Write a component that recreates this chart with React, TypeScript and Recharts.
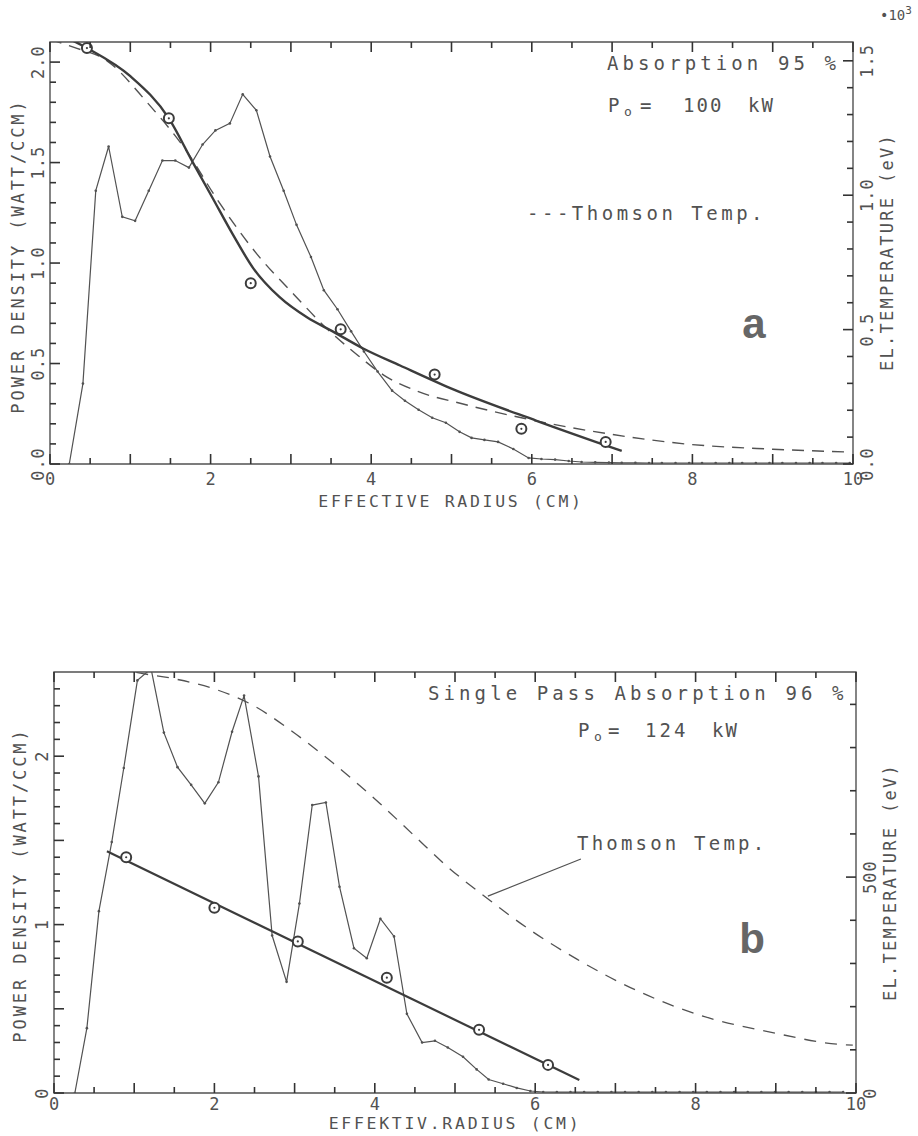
import React from "react";
import {
  ComposedChart,
  Line,
  Scatter,
  XAxis,
  YAxis,
  ReferenceArea,
  ReferenceLine,
} from "recharts";

// ---------- panel a : Absorption 95 %, P0 = 100 kW ----------
const aMeasuredRadius = [
  0.24, 0.41, 0.57, 0.73, 0.9, 1.06, 1.23, 1.4, 1.56, 1.73, 1.9, 2.06, 2.24,
  2.4, 2.57, 2.74, 2.91, 3.07, 3.25, 3.41, 3.58, 3.75, 3.91, 4.08, 4.26, 4.42,
  4.59, 4.76, 4.93, 5.1, 5.25, 5.41, 5.58, 5.77, 5.96, 6.12, 6.29, 6.46, 6.62,
  6.79, 6.96, 7.12, 7.29, 7.46, 7.62, 7.79, 7.96, 8.12, 8.29, 8.46, 8.62, 8.79,
  8.96, 9.12, 9.29, 9.46, 9.62, 9.79, 9.96,
];
const aMeasuredPower = [
  0, 0.4, 1.36, 1.58, 1.23, 1.21, 1.36, 1.51, 1.51, 1.475, 1.59, 1.66, 1.695,
  1.84, 1.76, 1.53, 1.36, 1.19, 1.03, 0.865, 0.77, 0.66, 0.56, 0.46, 0.365,
  0.315, 0.27, 0.23, 0.205, 0.16, 0.13, 0.12, 0.11, 0.075, 0.03, 0.025, 0.022,
  0.015, 0.01, 0.008, 0.007, 0.006, 0.006, 0.005, 0.005, 0.005, 0.005, 0.005,
  0.005, 0.005, 0.005, 0.005, 0.005, 0.005, 0.005, 0.005, 0.005, 0.005, 0.005,
];
const aFitRadius = [0, 0.46, 1.0, 1.48, 1.78, 2.03, 2.28, 2.53, 2.86, 3.2, 3.52, 3.9, 4.36, 5.0, 6.06, 7.12];
const aFitPower = [2.16, 2.07, 1.93, 1.72, 1.5, 1.32, 1.14, 0.975, 0.83, 0.73, 0.66, 0.575, 0.49, 0.375, 0.215, 0.065];
const aCircleRadius = [0.46, 1.48, 2.5, 3.62, 4.79, 5.87, 6.92];
const aCirclePower = [2.07, 1.72, 0.9, 0.67, 0.445, 0.175, 0.11];
const aThomsonRadius = [0, 0.3, 0.71, 1.21, 1.71, 2.08, 2.58, 3.04, 3.46, 3.79, 4.16, 4.58, 5.12, 5.9, 7.0, 7.9, 9.0, 9.9];
const aThomsonTemp = [1.58, 1.55, 1.5, 1.345, 1.16, 0.985, 0.78, 0.63, 0.5, 0.415, 0.33, 0.27, 0.225, 0.17, 0.11, 0.075, 0.055, 0.045];
const aLeftLabels = ["0.0", "0.5", "1.0", "1.5", "2.0"];
const aRightLabels = ["0.0", "0.5", "1.0", "1.5"];

// ---------- panel b : Single Pass Absorption 96 %, P0 = 124 kW ----------
const bMeasuredRadius = [
  0.26, 0.41, 0.56, 0.72, 0.87, 1.04, 1.21, 1.37, 1.54, 1.71, 1.88, 2.05, 2.22,
  2.37, 2.55, 2.72, 2.9, 3.06, 3.22, 3.39, 3.56, 3.74, 3.9, 4.07, 4.24, 4.4,
  4.59, 4.75, 4.91, 5.1, 5.27, 5.42, 5.6, 5.77, 5.94, 6.1, 6.27, 6.44, 6.61,
  6.78, 6.95, 7.12, 7.29, 7.46, 7.63, 7.8, 7.97, 8.14, 8.31, 8.48, 8.65, 8.82,
  8.99, 9.16, 9.33, 9.5, 9.67, 9.84,
];
const bMeasuredPower = [
  0, 0.385, 1.08, 1.49, 1.93, 2.45, 2.52, 2.14, 1.935, 1.83, 1.72, 1.845, 2.145,
  2.36, 1.88, 0.935, 0.66, 1.125, 1.71, 1.725, 1.225, 0.86, 0.8, 1.035, 0.93,
  0.47, 0.3, 0.31, 0.27, 0.215, 0.14, 0.08, 0.055, 0.03, 0.012, 0.006, 0.005,
  0.005, 0.005, 0.005, 0.005, 0.005, 0.005, 0.005, 0.005, 0.005, 0.005, 0.005,
  0.005, 0.005, 0.005, 0.005, 0.005, 0.005, 0.005, 0.005, 0.005, 0.005,
];
const bFitRadius = [0.66, 6.55];
const bFitPower = [1.435, 0.077];
const bCircleRadius = [0.9, 2.0, 3.04, 4.15, 5.3, 6.16];
const bCirclePower = [1.4, 1.1, 0.9, 0.685, 0.375, 0.167];
const bThomsonRadius = [0, 0.5, 1.0, 1.48, 1.98, 2.48, 2.98, 3.48, 4.06, 4.48, 4.9, 5.4, 5.94, 6.52, 7.27, 8.09, 8.93, 9.84, 9.96];
const bThomsonTemp = [1010, 1000, 975, 960, 937, 898, 836, 764, 671, 598, 525, 451, 377, 310, 237, 178, 141, 112, 111];
const bLeftLabels = ["0", "1", "2"];
const bRightLabels = ["0", "500"];

const xLabels = ["0", "2", "4", "6", "8", "10"];

const ink = "#525252";
const heavy = "#3c3c3c";
const tickInk = "#333";
const mono = "'DejaVu Sans Mono', monospace";

const pairs = (xs: number[], ys: number[], key: string) =>
  xs.map((r, i) => ({ r, [key]: ys[i] }));
const steps = (max: number, step: number) =>
  Array.from({ length: Math.floor(max / step + 1e-6) + 1 }, (_, i) => +(i * step).toFixed(3));
const isMultiple = (v: number, m: number) => Math.abs(v / m - Math.round(v / m)) < 1e-6;
const findLabel = (labels: string[], v: number) =>
  labels.find((l) => Math.abs(Number(l) - v) < 1e-6);

const XTick = ({ x, y, payload, plotTop, labelDy }: any) => {
  const v = payload.value;
  const len = isMultiple(v, 1) ? 10 : 6;
  const label = findLabel(xLabels, v);
  return (
    <g>
      <path d={`M${x},${y}L${x},${y - len}`} stroke={tickInk} strokeWidth={1.6} />
      <path d={`M${x},${plotTop}L${x},${plotTop + len}`} stroke={tickInk} strokeWidth={1.6} />
      {label !== undefined && (
        <text x={x} y={y + labelDy} textAnchor="middle" dominantBaseline="central"
          fontFamily={mono} fontSize={17} fill={ink}>
          {label}
        </text>
      )}
    </g>
  );
};

const YTick = ({ x, y, payload, labels, major, side }: any) => {
  const v = payload.value;
  const len = isMultiple(v, major) ? 10 : 6;
  const x2 = side === "left" ? x + len : x - len;
  const label = findLabel(labels, v);
  const lx = side === "left" ? x - 12 : x + 14;
  return (
    <g>
      <path d={`M${x},${y}L${x2},${y}`} stroke={tickInk} strokeWidth={1.6} />
      {label !== undefined && (
        <text x={lx} y={y} textAnchor="middle" dominantBaseline="central"
          transform={`rotate(-90 ${lx} ${y})`} fontFamily={mono} fontSize={17}
          letterSpacing={1} fill={ink}>
          {label}
        </text>
      )}
    </g>
  );
};

const ringShape = (p: any) => (
  <g>
    <circle cx={p.cx} cy={p.cy} r={5} fill="#fff" stroke={heavy} strokeWidth={2} />
    <circle cx={p.cx} cy={p.cy} r={1.1} fill={heavy} />
  </g>
);

const smallDot = { r: 1.3, fill: ink, stroke: "none" };

type PanelProps = {
  top: number;
  height: number;
  margin: { top: number; right: number; bottom: number; left: number };
  leftMax: number;
  rightMax: number;
  leftStep: number;
  rightStep: number;
  leftMajor: number;
  rightMajor: number;
  leftLabels: string[];
  rightLabels: string[];
  labelDy: number;
  children: React.ReactNode;
};

const Panel = (p: PanelProps) => (
  <div style={{ position: "absolute", left: 0, top: p.top }}>
    <ComposedChart width={918} height={p.height} margin={p.margin}>
      <XAxis type="number" dataKey="r" domain={[0, 10]} ticks={steps(10, 0.5)}
        interval={0} allowDataOverflow axisLine={false} tickLine={false}
        tickSize={0} tickMargin={0} height={30}
        tick={(t: any) => <XTick {...t} plotTop={p.margin.top} labelDy={p.labelDy} />} />
      <YAxis yAxisId="left" type="number" domain={[0, p.leftMax]}
        ticks={steps(p.leftMax - 0.01, p.leftStep)} interval={0} allowDataOverflow
        axisLine={false} tickLine={false} tickSize={0} tickMargin={0} width={30}
        tick={(t: any) => <YTick {...t} labels={p.leftLabels} major={p.leftMajor} side="left" />} />
      <YAxis yAxisId="right" orientation="right" type="number" domain={[0, p.rightMax]}
        ticks={steps(p.rightMax * 0.99, p.rightStep)} interval={0} allowDataOverflow
        axisLine={false} tickLine={false} tickSize={0} tickMargin={0} width={30}
        tick={(t: any) => <YTick {...t} labels={p.rightLabels} major={p.rightMajor} side="right" />} />
      <ReferenceArea yAxisId="left" x1={0} x2={10} y1={0} y2={p.leftMax}
        fill="none" stroke={ink} strokeWidth={1.4} ifOverflow="visible" />
      {p.children}
    </ComposedChart>
  </div>
);

const Txt = ({ x, y, size = 19, spacing = 4.1, anchor = "start", rotate, children }: any) => (
  <text x={x} y={y} fontFamily={mono} fontSize={size} letterSpacing={spacing} fill={ink}
    textAnchor={anchor} dominantBaseline="central"
    transform={rotate ? `rotate(${rotate} ${x} ${y})` : undefined}>
    {children}
  </text>
);

export default function App() {
  return (
    <div style={{ position: "absolute", left: 0, top: 0, width: 918, height: 1136, background: "#fff", overflow: "hidden" }}>
      <Panel top={0} height={530} margin={{ top: 42, right: 35, bottom: 36, left: 20 }}
        leftMax={2.1} rightMax={1.57} leftStep={0.1} rightStep={0.1} leftMajor={0.5}
        rightMajor={0.5} leftLabels={aLeftLabels} rightLabels={aRightLabels} labelDy={15}>
        <Line yAxisId="right" data={pairs(aThomsonRadius, aThomsonTemp, "t")} dataKey="t"
          type="monotone" stroke={ink} strokeWidth={1.4} strokeDasharray="12 8" dot={false}
          isAnimationActive={false} />
        <Line yAxisId="left" data={pairs(aMeasuredRadius, aMeasuredPower, "p")} dataKey="p"
          type="linear" stroke={ink} strokeWidth={1.2} dot={smallDot} isAnimationActive={false} />
        <Line yAxisId="left" data={pairs(aFitRadius, aFitPower, "p")} dataKey="p"
          type="monotone" stroke={heavy} strokeWidth={2.4} dot={false} isAnimationActive={false} />
        <Scatter yAxisId="left" data={pairs(aCircleRadius, aCirclePower, "p")} dataKey="p"
          shape={ringShape} isAnimationActive={false} />
      </Panel>

      <Panel top={600} height={536} margin={{ top: 72, right: 32, bottom: 13, left: 24 }}
        leftMax={2.5} rightMax={975} leftStep={0.1} rightStep={100} leftMajor={0.5}
        rightMajor={500} leftLabels={bLeftLabels} rightLabels={bRightLabels} labelDy={11}>
        <Line yAxisId="right" data={pairs(bThomsonRadius, bThomsonTemp, "t")} dataKey="t"
          type="monotone" stroke={ink} strokeWidth={1.3} strokeDasharray="12 9" dot={false}
          isAnimationActive={false} />
        <ReferenceLine yAxisId="right" segment={[{ x: 6.57, y: 542 }, { x: 5.41, y: 456 }]}
          stroke={ink} strokeWidth={1.2} />
        <Line yAxisId="left" data={pairs(bMeasuredRadius, bMeasuredPower, "p")} dataKey="p"
          type="linear" stroke={ink} strokeWidth={1.2} dot={smallDot} isAnimationActive={false} />
        <Line yAxisId="left" data={pairs(bFitRadius, bFitPower, "p")} dataKey="p"
          type="linear" stroke={heavy} strokeWidth={2.2} dot={false} isAnimationActive={false} />
        <Scatter yAxisId="left" data={pairs(bCircleRadius, bCirclePower, "p")} dataKey="p"
          shape={ringShape} isAnimationActive={false} />
      </Panel>

      <svg width={918} height={1136} style={{ position: "absolute", left: 0, top: 0, pointerEvents: "none" }}>
        {/* panel a texts */}
        <text x={880} y={20} fontFamily={mono} fontSize={14} fill={ink}>
          •10<tspan dy={-6} fontSize={11}>3</tspan>
        </text>
        <Txt x={18} y={256} size={17} spacing={2.9} anchor="middle" rotate={-90}>POWER DENSITY (WATT/CCM)</Txt>
        <Txt x={887} y={252} size={17} spacing={2.3} anchor="middle" rotate={-90}>EL.TEMPERATURE (eV)</Txt>
        <Txt x={451} y={501} size={16.5} spacing={2.7} anchor="middle">EFFECTIVE RADIUS (CM)</Txt>
        <Txt x={607} y={63}>Absorption 95 %</Txt>
        <text y={105} fontFamily={mono} fontSize={19} fill={ink} dominantBaseline="central">
          <tspan x={608}>P</tspan>
          <tspan x={624} dy={6} fontSize={13}>o</tspan>
          <tspan x={640} dy={-6}>=</tspan>
          <tspan x={683} letterSpacing={2}>100</tspan>
          <tspan x={748} letterSpacing={2}>kW</tspan>
        </text>
        <Txt x={527} y={213} spacing={3.5}>---Thomson Temp.</Txt>
        <text x={754} y={323} fontFamily="'Liberation Sans', Arial, sans-serif" fontWeight="bold"
          fontSize={42} fill="#666" textAnchor="middle" dominantBaseline="central">a</text>

        {/* panel b texts */}
        <Txt x={20} y={885} size={17} spacing={2.9} anchor="middle" rotate={-90}>POWER DENSITY (WATT/CCM)</Txt>
        <Txt x={890} y={882} size={17} spacing={2.3} anchor="middle" rotate={-90}>EL.TEMPERATURE (eV)</Txt>
        <Txt x={455} y={1123} size={16.5} spacing={2.7} anchor="middle">EFFEKTIV.RADIUS (CM)</Txt>
        <Txt x={428} y={693}>Single Pass Absorption 96 %</Txt>
        <text y={730} fontFamily={mono} fontSize={19} fill={ink} dominantBaseline="central">
          <tspan x={578}>P</tspan>
          <tspan x={594} dy={6} fontSize={13}>o</tspan>
          <tspan x={608} dy={-6}>=</tspan>
          <tspan x={645} letterSpacing={3}>124</tspan>
          <tspan x={712} letterSpacing={2}>kW</tspan>
        </text>
        <Txt x={577} y={843} spacing={3.2}>Thomson Temp.</Txt>
        <text x={752} y={938} fontFamily="'Liberation Sans', Arial, sans-serif" fontWeight="bold"
          fontSize={42} fill="#666" textAnchor="middle" dominantBaseline="central">b</text>
      </svg>
    </div>
  );
}
